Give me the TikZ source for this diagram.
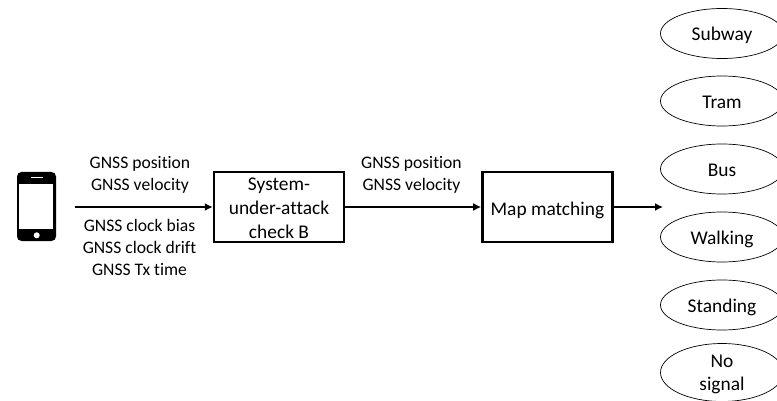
\documentclass[tikz,border=0pt]{standalone}
\usepackage{fontspec}
\setmainfont[Ligatures=NoCommon]{Carlito}
\usetikzlibrary{arrows.meta, positioning, shapes}

\begin{document}
\begin{tikzpicture}[x=1pt, y=-1pt]
        % --- Styles ---
        \tikzstyle{checkbox}=[draw, line width=2.4pt, minimum width=130pt, minimum height=70pt, inner sep=0pt, align=center, font=\fontsize{19.4}{24}\selectfont, text height=19pt, text depth=3pt]
        \tikzstyle{modenode}=[ellipse, draw, line width=0.7pt, minimum width=123pt, minimum height=50pt, inner sep=0pt, align=center, font=\fontsize{19.4}{23}\selectfont, text height=18pt, text depth=3pt]
        \tikzstyle{labelnode}=[align=center, inner sep=0pt, font=\fontsize{17.6}{21.7}\selectfont]
        \tikzstyle{flow}=[-{Latex[length=8pt, width=8pt]}, line width=2pt]

        \useasboundingbox (0,0) rectangle (777,401);

        % --- 1. Phone ---
        \node[fill=black, rounded corners=4.5pt, minimum width=39pt, minimum height=69pt, inner sep=0pt] (phone) at (36.5,206.5) {};
        \node[fill=white, minimum width=34pt, minimum height=45pt, inner sep=0pt] (screen) at (36.3,206.5) {};
        \node[fill=white, minimum width=12pt, minimum height=1.2pt, inner sep=0pt] (speaker) at (37,177.5) {};
        \node[circle, fill=white, minimum size=6pt, inner sep=0pt] (homekey) at (36.7,235.3) {};

        % --- 2. Blocks ---
        \node[checkbox, text height=66pt, text depth=4pt] (check) at (279,207) {System-\\under-attack\\check B};
        \node[checkbox, right=136pt of check] (matching) {Map matching};

        % --- 3. Flows ---
        \coordinate (source) at (75,207);
        \coordinate (output) at (663,207);
        \draw[flow] (source) -- (check);
        \draw[flow] (check) -- (matching);
        \draw[flow] (matching) -- (output);

        % --- 4. Flow labels ---
        \node[labelnode] (inupper) at (140,175) {GNSS position\\GNSS velocity};
        \node[labelnode] (inlower) at (139.5,247.5) {GNSS clock bias\\GNSS clock drift\\GNSS Tx time};
        \node[labelnode] (outupper) at (411.5,175) {GNSS position\\GNSS velocity};

        % --- 5. Transport modes ---
        \node[modenode] (subway) at (722,33.5) {Subway};
        \node[modenode] (tram) at (722,101) {Tram};
        \node[modenode] (bus) at (722,169) {Bus};
        \node[modenode] (walking) at (722,237) {Walking};
        \node[modenode] (standing) at (722,305) {Standing};
        \node[modenode, text height=38pt] (nosignal) at (722,372.5) {No\\signal};

    \end{tikzpicture}
\end{document}
